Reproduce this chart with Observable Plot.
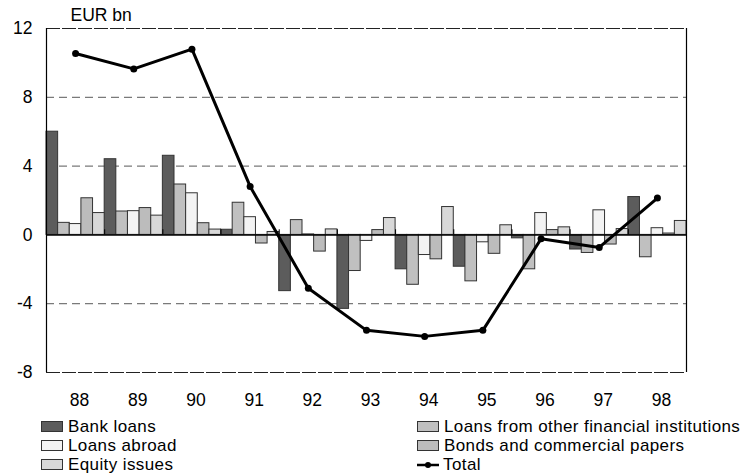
<!DOCTYPE html>
<html>
<head>
<meta charset="utf-8">
<script src="https://cdn.jsdelivr.net/npm/d3@7"></script>
<script src="https://cdn.jsdelivr.net/npm/@observablehq/plot@0.6"></script>
<style>
  html, body { margin: 0; padding: 0; background: #fff; }
  #wrap { position: relative; width: 748px; height: 474px; font-family: "Liberation Sans", Arial, sans-serif; }
  #legend { position: absolute; top: 417px; left: 0; width: 748px; font-size: 17px; letter-spacing: 0.4px; color: #000; }
  .item { position: absolute; height: 19px; line-height: 19px; white-space: nowrap; display: flex; align-items: center; }
  .sw { display: inline-block; width: 22px; height: 11px; border: 1px solid #333; margin-right: 5px; box-sizing: border-box; }
</style>
</head>
<body>
<div id="wrap">
  <div id="chart"></div>
  <div id="legend"></div>
</div>
<script>
const years = ["88", "89", "90", "91", "92", "93", "94", "95", "96", "97", "98"];
const seriesNames = ["Bank loans", "Loans from other financial institutions", "Loans abroad", "Bonds and commercial papers", "Equity issues"];
const seriesColors = ["#5c5c5c", "#c0c0c0", "#f3f3f3", "#bcbcbc", "#d8d8d8"];
const bankLoans = [6.0, 4.4, 4.6, 0.3, -3.27, -4.3, -2.0, -1.85, -0.2, -0.85, 2.2];
const otherFinancial = [0.7, 1.36, 2.93, 1.87, 0.86, -2.1, -2.9, -2.7, -2.0, -1.05, -1.3];
const loansAbroad = [0.63, 1.38, 2.42, 1.03, 0.03, -0.35, -1.17, -0.43, 1.27, 1.43, 0.39];
const bonds = [2.13, 1.56, 0.68, -0.5, -0.97, 0.28, -1.42, -1.1, 0.28, -0.56, 0.08];
const equity = [1.27, 1.12, 0.31, 0.17, 0.32, 0.98, 1.62, 0.56, 0.44, 0.34, 0.81];
const total = [10.55, 9.65, 10.8, 2.82, -3.1, -5.55, -5.9, -5.55, -0.23, -0.73, 2.14];
const yTicks = [12, 8, 4, 0, -4, -8];
const unitLabel = "EUR bn";

const seriesValues = [bankLoans, otherFinancial, loansAbroad, bonds, equity];
const n = seriesValues.length;

const bars = [];
seriesValues.forEach((vals, j) => {
  vals.forEach((v, i) => {
    bars.push({ year: years[i], series: seriesNames[j], x1: i + j / n, x2: i + (j + 1) / n, value: v });
  });
});
const totalRows = total.map((v, i) => ({ year: years[i], x: i + 0.5, value: v }));
const centers = years.map((y, i) => i + 0.5);
const boundaries = years.slice(1).map((y, i) => i + 1);
const fmt = d => (d < 0 ? "-" + Math.abs(d) : String(d));

const chart = Plot.plot({
  width: 748,
  height: 414,
  marginLeft: 46,
  marginRight: 62,
  marginTop: 28,
  marginBottom: 42,
  style: { fontFamily: "'Liberation Sans', Arial, sans-serif", fontSize: "17.5px", background: "#fff", color: "#000", overflow: "visible" },
  x: { type: "linear", domain: [0, years.length], axis: null },
  y: { domain: [-8, 12], axis: null },
  color: { domain: seriesNames, range: seriesColors },
  marks: [
    Plot.ruleY([8, 4, -4], { stroke: "#7a7a7a", strokeWidth: 1.3, strokeDasharray: "8,5" }),
    Plot.ruleY([12, -8], { stroke: "#222", strokeWidth: 1.2, strokeDasharray: "14,2" }),
    Plot.rectY(bars, { x1: "x1", x2: "x2", y1: 0, y2: "value", fill: "series", stroke: "#333", strokeWidth: 1 }),
    Plot.ruleY([0], { stroke: "#000", strokeWidth: 1.5 }),
    Plot.ruleX(boundaries, { x: d => d, y1: 0, y2: 0.3, stroke: "#000", strokeWidth: 1 }),
    Plot.ruleX([0], { y1: -8, y2: 12, stroke: "#000", strokeWidth: 1.2 }),
    Plot.ruleX([years.length], { y1: -8, y2: 12, stroke: "#000", strokeWidth: 1.2 }),
    Plot.line(totalRows, { x: "x", y: "value", stroke: "#000", strokeWidth: 3 }),
    Plot.dot(totalRows, { x: "x", y: "value", r: 3.5, fill: "#000" }),
    Plot.axisY(yTicks, { label: null, tickSize: 0, tickPadding: 14, tickFormat: fmt, fontSize: 17.5 }),
    Plot.axisX(centers, { label: null, tickSize: 0, tickPadding: 21, tickFormat: d => years[Math.floor(d)], fontSize: 17.5, dx: 4 }),
    Plot.text([unitLabel], { frameAnchor: "top-left", textAnchor: "start", lineAnchor: "middle", dx: 24, dy: -13, fontSize: 17.5 })
  ]
});
document.getElementById("chart").appendChild(chart);

// Legend (row-wise, two columns)
const legendItems = [
  { label: seriesNames[0], color: seriesColors[0], col: 0, row: 0 },
  { label: seriesNames[1], color: seriesColors[1], col: 1, row: 0 },
  { label: seriesNames[2], color: seriesColors[2], col: 0, row: 1 },
  { label: seriesNames[3], color: seriesColors[3], col: 1, row: 1 },
  { label: seriesNames[4], color: seriesColors[4], col: 0, row: 2 },
  { label: "Total", line: true, col: 1, row: 2 }
];
const legend = document.getElementById("legend");
const colX = [41, 417];
legendItems.forEach(it => {
  const d = document.createElement("div");
  d.className = "item";
  d.style.left = colX[it.col] + "px";
  d.style.top = (it.row * 19) + "px";
  if (it.line) {
    d.innerHTML = '<svg width="22" height="12" style="margin-right:4px"><line x1="0" y1="6" x2="22" y2="6" stroke="#000" stroke-width="2.5"/><circle cx="11" cy="6" r="3" fill="#000"/></svg>';
  } else {
    const s = document.createElement("span");
    s.className = "sw";
    s.style.background = it.color;
    d.appendChild(s);
  }
  const t = document.createElement("span");
  t.textContent = it.label;
  d.appendChild(t);
  legend.appendChild(d);
});
</script>
</body>
</html>
